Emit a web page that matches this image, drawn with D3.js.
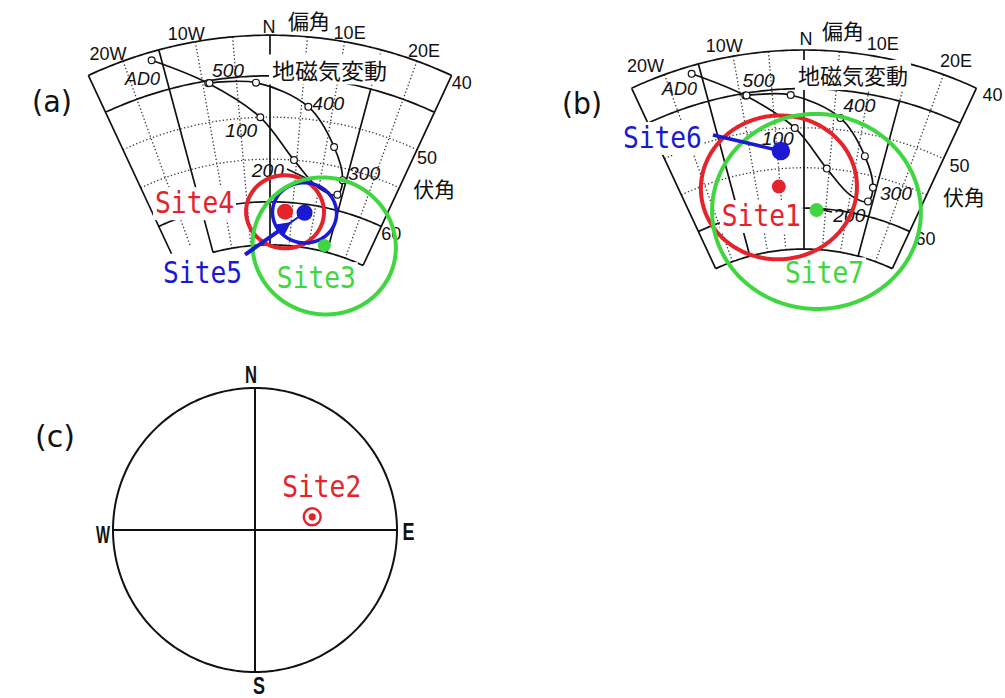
<!DOCTYPE html>
<html>
<head>
<meta charset="utf-8">
<script src="https://cdn.jsdelivr.net/npm/d3@7"></script>
<style>
  html, body { margin: 0; padding: 0; background: #fff; }
  svg { display: block; }
</style>
</head>
<body>
<svg id="fig" width="1005" height="698"></svg>
<script>
// ---- Reference secular-variation curve, AD 0 - 500 (declination / inclination, degrees)
const curveYears  = [0, 50, 100, 150, 200, 250, 300, 350, 400, 450, 500];
const curveDec    = [-16.3, -9.2, -1.6, 4.5, 10.0, 14.0, 14.3, 11.4, 6.1, -2.1, -9.0];
const curveInc    = [41.0, 45.3, 50.0, 55.0, 57.9, 58.2, 56.4, 52.8, 48.5, 45.8, 45.3];
const markedYears = [0, 50, 100, 150, 250, 300, 350, 400, 450, 500];
const labelledYears = [0, 100, 200, 300, 400, 500];
const yearLabels    = ["AD0", "100", "200", "300", "400", "500"];

// ---- Grid ticks
const decTicks      = [-20, -10, 0, 10, 20];
const decTickLabels = ["20W", "10W", "N", "10E", "20E"];
const incTicks      = [40, 50, 60];
const incTickLabels = ["40", "50", "60"];

// ---- Site mean directions with alpha95 (degrees)
const sitesA = ["Site4", "Site5", "Site3"];
const decA   = [3.4, 7.8, 13.9];
const incA   = [61.1, 61.0, 64.3];
const a95A   = [4.25, 3.5, 7.9];

const sitesB = ["Site6", "Site1", "Site7"];
const decB   = [-4.3, -5.3, 2.9];
const incB   = [52.8, 57.2, 60.2];
const a95B   = [null, 8.9, 12.0];

const sitesC = ["Site2"];
const decC   = [77];
const incC   = [56];

// ---- Styling
const hue = { red: "#e4232b", green: "#3fd63f", blue: "#1a1ad2" };
const ink = "#111";
const monoFont = "'DejaVu Sans Mono', monospace";
const sansFont = "'Liberation Sans', Arial, sans-serif";
const cjkFont  = "'Noto Sans CJK JP', 'Noto Sans CJK SC', sans-serif";

const svg = d3.select("#fig");

// Lower-hemisphere equal-area projection centred on the vertical (I = 90),
// declination measured clockwise from north (up).
function polarEqualAreaRaw(lam, phi) {
  const r = 2 * Math.sin((Math.PI / 2 - phi) / 2);
  return [r * Math.sin(lam), r * Math.cos(lam)];
}
function makeProjection(cx, cy, s) {
  return d3.geoProjection(polarEqualAreaRaw).center([0, 90]).scale(s).translate([cx, cy]);
}

const parallel = (I, d0, d1) => ({
  type: "LineString",
  coordinates: d3.range(d0, d1 + 1e-6, 0.5).map(d => [d, I])
});
const meridian = (D, i0, i1) => ({ type: "LineString", coordinates: [[D, i0], [D, i1]] });

function addText(g, str, x, y, opts) {
  const t = g.append("text")
    .attr("x", x).attr("y", y)
    .attr("font-family", opts.font || sansFont)
    .attr("font-size", opts.size || 18)
    .attr("fill", opts.fill || ink)
    .attr("text-anchor", opts.anchor || "start")
    .text(str);
  if (opts.italic) t.attr("font-style", "italic");
  if (opts.weight) t.attr("font-weight", opts.weight);
  if (opts.width) t.attr("textLength", opts.width).attr("lengthAdjust", "spacingAndGlyphs");
  if (opts.halo) {
    const bb = t.node().getBBox();
    const pad = opts.halo;
    g.insert("rect", () => t.node())
      .attr("x", bb.x - pad).attr("y", bb.y + 2)
      .attr("width", bb.width + 2 * pad).attr("height", bb.height - 2)
      .attr("fill", "#fff");
  }
  return t;
}

function drawFan(p) {
  const proj = makeProjection(p.cx, p.cy, p.s);
  const path = d3.geoPath(proj);
  const g = svg.append("g");

  // dotted 5-degree grid
  const dotted = [
    parallel(50, -25, 25), parallel(55, -25, 25),
    ...[-20, -10, -5, 5, 10, 20].map(D => meridian(D, 40, D === -20 ? p.leftEnd : 65)),
    meridian(15, 40, 45)
  ];
  g.append("path")
    .attr("d", path({ type: "MultiLineString", coordinates: dotted.map(l => l.coordinates) }))
    .attr("fill", "none").attr("stroke", "#333")
    .attr("stroke-width", 1.3).attr("stroke-dasharray", "1.3,2.3");

  // solid frame and main grid lines
  const solid = [
    parallel(40, -25, 25), parallel(45, -25, 25), parallel(60, -25, 25),
    parallel(65, p.bottomFrom, 25),
    meridian(-25, 40, p.leftEnd), meridian(25, 40, 65),
    meridian(0, 40, 65), meridian(-15, 40, 65), meridian(15, 45, 65)
  ];
  g.append("path")
    .attr("d", path({ type: "MultiLineString", coordinates: solid.map(l => l.coordinates) }))
    .attr("fill", "none").attr("stroke", ink)
    .attr("stroke-width", 1.7).attr("stroke-linejoin", "round");

  // axis labels
  decTicks.forEach((D, i) => {
    const [x, y] = proj([D, 40]);
    addText(g, decTickLabels[i], x + p.tickDx[i], y + p.tickDy[i], { size: 18, anchor: "middle" });
  });
  incTicks.forEach((I, i) => {
    const [x, y] = proj([25, I]);
    addText(g, incTickLabels[i], x + p.incDx, y + p.incDy, { size: 19, width: 20 });
  });
  {
    const [x, y] = proj([0, 40]);
    addText(g, "偏角", x + p.decTitle[0], y + p.decTitle[1], { font: cjkFont, size: 21, width: 42 });
    const [x2, y2] = proj([25, 55]);
    addText(g, "伏角", x2 + p.incTitle[0], y2 + p.incTitle[1], { font: cjkFont, size: 21, width: 42 });
  }
  addText(g, "地磁気変動", p.varTitle.x, p.varTitle.y,
    { font: cjkFont, size: 22, width: p.varTitle.w, halo: 3 });
  addText(g, p.tag.text, p.tag.x, p.tag.y, { font: "'DejaVu Sans', sans-serif", size: 30, width: 40 });

  // secular-variation curve
  const pts = curveYears.map((yr, i) => proj([curveDec[i], curveInc[i]]));
  g.append("path")
    .attr("d", d3.line().curve(d3.curveCatmullRom.alpha(0.5))(pts))
    .attr("fill", "none").attr("stroke", ink).attr("stroke-width", 1.7);
  g.selectAll("circle.yr")
    .data(markedYears)
    .join("circle")
    .attr("class", "yr")
    .attr("cx", yr => pts[curveYears.indexOf(yr)][0])
    .attr("cy", yr => pts[curveYears.indexOf(yr)][1])
    .attr("r", 3.4)
    .attr("fill", "#fff").attr("stroke", ink).attr("stroke-width", 1.2);
  labelledYears.forEach((yr, i) => {
    const [x, y] = pts[curveYears.indexOf(yr)];
    addText(g, yearLabels[i], x + p.yearOff[i][0], y + p.yearOff[i][1],
      { size: 19, italic: true, width: i === 0 ? 35 : 32 });
  });
  {
    const [x, y] = pts[curveYears.indexOf(200)];
    g.append("line")
      .attr("x1", x + p.leader200[0][0]).attr("y1", y + p.leader200[0][1])
      .attr("x2", x + p.leader200[1][0]).attr("y2", y + p.leader200[1][1])
      .attr("stroke", ink).attr("stroke-width", 1.4);
  }

  // site labels (white halo hides grid behind them)
  const dots = p.names.map((n, i) => proj([p.dec[i], p.inc[i]]));
  p.names.forEach((n, i) => {
    const [x, y] = dots[i];
    addText(g, n, x + p.labelOff[i][0], y + p.labelOff[i][1],
      { font: monoFont, size: 30, fill: hue[p.hues[i]], width: 79, halo: 2 });
  });

  // alpha95 confidence circles
  p.names.forEach((n, i) => {
    if (p.a95[i] == null) return;
    g.append("path")
      .attr("d", path(d3.geoCircle().center([p.dec[i], p.inc[i]]).radius(p.a95[i]).precision(1)()))
      .attr("fill", "none").attr("stroke", hue[p.hues[i]]).attr("stroke-width", p.ringW[i]);
  });

  // pointer from label to its mean direction
  {
    const i = p.pointer.site;
    const [tx, ty] = dots[i];
    const sx = tx + p.pointer.from[0], sy = ty + p.pointer.from[1];
    const c = hue[p.hues[i]];
    if (p.pointer.arrow) {
      const f = 0.68;
      const mx = sx + (tx - sx) * f, my = sy + (ty - sy) * f;
      const a = Math.atan2(ty - sy, tx - sx);
      g.append("line").attr("x1", sx).attr("y1", sy).attr("x2", mx).attr("y2", my)
        .attr("stroke", c).attr("stroke-width", 4);
      g.append("line").attr("x1", mx).attr("y1", my).attr("x2", tx).attr("y2", ty)
        .attr("stroke", c).attr("stroke-width", 2);
      const tip = [mx + 7 * Math.cos(a), my + 7 * Math.sin(a)];
      const b1 = [mx - 7 * Math.cos(a) + 7 * Math.sin(a), my - 7 * Math.sin(a) - 7 * Math.cos(a)];
      const b2 = [mx - 7 * Math.cos(a) - 7 * Math.sin(a), my - 7 * Math.sin(a) + 7 * Math.cos(a)];
      g.append("path").attr("d", d3.line()([tip, b1, b2]) + "Z").attr("fill", c);
    } else {
      g.append("line").attr("x1", sx).attr("y1", sy).attr("x2", tx).attr("y2", ty)
        .attr("stroke", c).attr("stroke-width", 3.6);
    }
  }

  // mean directions
  g.selectAll("circle.site")
    .data(p.names)
    .join("circle")
    .attr("class", "site")
    .attr("cx", (n, i) => dots[i][0])
    .attr("cy", (n, i) => dots[i][1])
    .attr("r", (n, i) => p.dotR[i])
    .attr("fill", (n, i) => hue[p.hues[i]]);
}

drawFan({
  cx: 270, cy: 465, s: 508.5, leftEnd: 63.5, bottomFrom: -15,
  tag: { text: "(a)", x: 32, y: 112 },
  tickDx: [-15, -9, -1, 5, 7], tickDy: [-1, -2, -2, -2.5, -4],
  incDx: 0, incDy: 14,
  decTitle: [18, -6.5], incTitle: [14, 9],
  varTitle: { x: 272, y: 78.5, w: 115 },
  yearOff: [[-26.6, 25], [-35, 20], [-67, -11], [5.5, 0], [4, 3], [2.5, -6]],
  leader200: [[-31.8, -19.1], [-6.8, -7.1]],
  names: sitesA, dec: decA, inc: incA, a95: a95A,
  hues: ["red", "blue", "green"], dotR: [8, 8, 6.5], ringW: [4, 3.5, 4],
  labelOff: [[-130, 1.5], [-141.5, 70], [-47.5, 42.7]],
  pointer: { site: 1, from: [-59.5, 42], arrow: true }
});

drawFan({
  cx: 804, cy: 458, s: 482.7, leftEnd: 65, bottomFrom: -25,
  tag: { text: "(b)", x: 562, y: 114 },
  tickDx: [-19, -9, 2, 8, 12.5], tickDy: [-2.6, -4, -5, -6, -7.6],
  incDx: 6, incDy: 13,
  decTitle: [18, -11], incTitle: [16.3, 10.6],
  varTitle: { x: 798, y: 84, w: 110 },
  yearOff: [[-29.6, 21], [-33, 17], [-17, 27], [7, 12], [3, -6], [-4, -8.5]],
  leader200: [[-18.3, 16.8], [-28.3, 14.8]],
  names: sitesB, dec: decB, inc: incB, a95: a95B,
  hues: ["blue", "red", "green"], dotR: [9.2, 7, 7], ringW: [3.5, 4, 4],
  labelOff: [[-158, -3], [-57, 39.5], [-31.5, 73.3]],
  pointer: { site: 0, from: [-68, -16], arrow: false }
});

// ---- (c) full lower-hemisphere equal-area net
(function () {
  const cx = 255, cy = 530, R = 142;
  const proj = makeProjection(cx, cy, R / Math.SQRT2);
  const path = d3.geoPath(proj);
  const g = svg.append("g");
  g.append("path")
    .attr("d", path({ type: "LineString", coordinates: d3.range(-180, 180.01, 1).map(d => [d, 0]) }))
    .attr("fill", "none").attr("stroke", ink).attr("stroke-width", 2);
  const cross = [meridian(0, 0, 90), meridian(180, 0, 90), meridian(90, 0, 90), meridian(-90, 0, 90)];
  g.append("path")
    .attr("d", path({ type: "MultiLineString", coordinates: cross.map(l => l.coordinates) }))
    .attr("fill", "none").attr("stroke", ink).attr("stroke-width", 2);

  const compass = [
    { t: "N", D: 0, dx: -4, dy: -5, w: 12 },
    { t: "E", D: 90, dx: 11.5, dy: 10, w: 12 },
    { t: "S", D: 180, dx: 4, dy: 22, w: 12 },
    { t: "W", D: -90, dx: -10, dy: 13, w: 14 }
  ];
  compass.forEach(c => {
    const [x, y] = proj([c.D, 0]);
    addText(g, c.t, x + c.dx, y + c.dy, { size: 23, weight: "bold", anchor: "middle", width: c.w });
  });
  addText(g, "(c)", 35, 447, { font: "'DejaVu Sans', sans-serif", size: 30, width: 40 });

  sitesC.forEach((n, i) => {
    const [x, y] = proj([decC[i], incC[i]]);
    addText(g, n, x - 30, y - 20, { font: monoFont, size: 30, fill: hue.red, width: 79 });
    g.append("circle").attr("cx", x).attr("cy", y).attr("r", 8.5)
      .attr("fill", "none").attr("stroke", hue.red).attr("stroke-width", 2.4);
    g.append("circle").attr("cx", x).attr("cy", y).attr("r", 3.6).attr("fill", hue.red);
  });
})();
</script>
</body>
</html>
